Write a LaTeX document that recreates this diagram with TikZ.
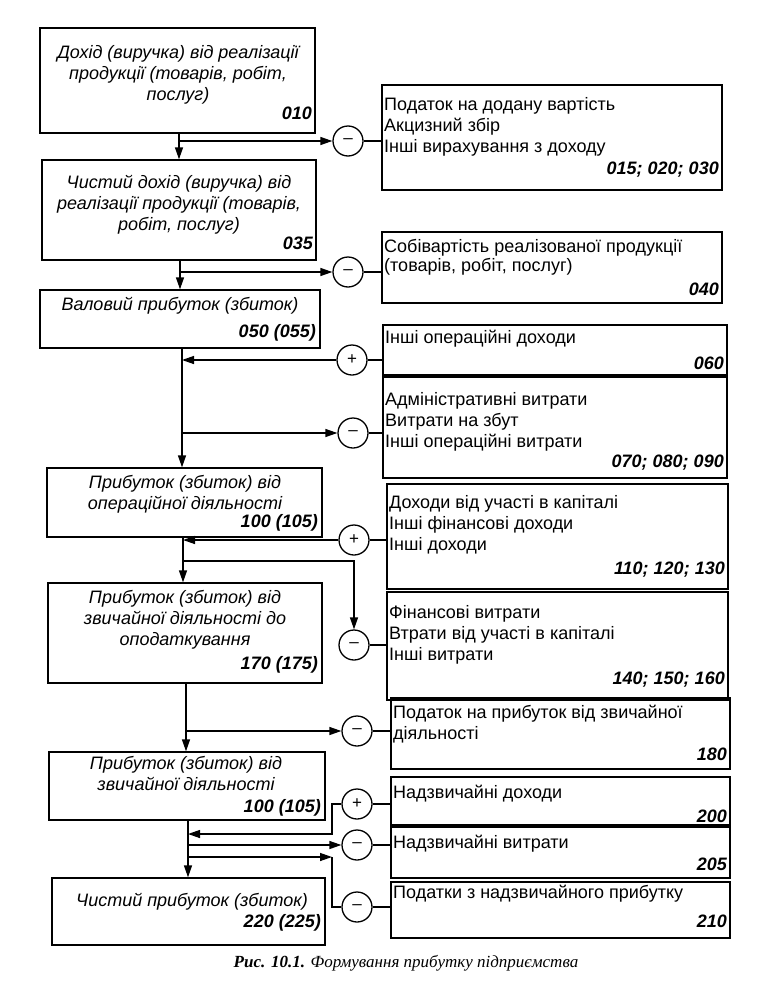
\documentclass[tikz,border=0pt]{standalone}
\usepackage{fontspec}
\setmainfont{Liberation Sans}
\newfontfamily\capfont{Liberation Serif}
\usetikzlibrary{arrows.meta,fit}
\begin{document}
\begin{tikzpicture}[x=1pt,y=-1pt,
  box/.style={draw, line width=1.3pt, inner sep=0pt},
  ltxt/.style={font=\fontsize{18}{21}\selectfont\itshape, align=center, inner sep=0pt, anchor=north},
  rtxt/.style={font=\fontsize{18}{21}\selectfont, align=left, inner sep=0pt, anchor=north west},
  code/.style={font=\fontsize{18}{21}\selectfont\bfseries\itshape, inner sep=0pt, anchor=base east},
  sgn/.style={draw, circle, line width=1.3pt, minimum size=30pt, inner sep=0pt, font=\fontsize{17}{17}\selectfont},
  arr/.style={line width=1.3pt, -{Triangle[length=12pt,width=8pt]}},
  ln/.style={line width=1.3pt}]
\useasboundingbox (0,0) rectangle (773,996);

% ---------- left boxes ----------
\node[box, fit={(40,28) (315,133)}] (L1) {};
\node[box, fit={(42,160) (316,260)}] (L2) {};
\node[box, fit={(40,290) (320,348)}] (L3) {};
\node[box, fit={(47,468) (322,537)}] (L4) {};
\node[box, fit={(48,583) (322,683)}] (L5) {};
\node[box, fit={(49,752) (325,820)}] (L6) {};
\node[box, fit={(52,878) (325,945)}] (L7) {};

\node[ltxt] (t1) at (178,45) {Дохід (виручка) від реалізації\\продукції (товарів, робіт,\\послуг)};
\node[code] (c1) at (312,119) {010};
\node[ltxt] (t2) at (179,175) {Чистий дохід (виручка) від\\реалізації продукції (товарів,\\робіт, послуг)};
\node[code] (c2) at (313,249) {035};
\node[ltxt] (t3) at (180,297) {Валовий прибуток (збиток)};
\node[code] (c3) at (316,337) {050 (055)};
\node[ltxt] (t4) at (185,475) {Прибуток (збиток) від\\операційної діяльності};
\node[code] (c4) at (318,527) {100 (105)};
\node[ltxt] (t5) at (185,590) {Прибуток (збиток) від\\звичайної діяльності до\\оподаткування};
\node[code] (c5) at (318,669) {170 (175)};
\node[ltxt] (t6) at (186,756) {Прибуток (збиток) від\\звичайної діяльності};
\node[code] (c6) at (321,812) {100 (105)};
\node[ltxt] (t7) at (192,893) {Чистий прибуток (збиток)};
\node[code] (c7) at (321,927) {220 (225)};

% ---------- right boxes ----------
\node[box, fit={(382,85) (722,190)}] (R1) {};
\node[box, fit={(382,232) (722,303)}] (R2) {};
\node[box, fit={(383,325) (727,375)}] (R3) {};
\node[box, fit={(383,377) (727,478)}] (R4) {};
\node[box, fit={(387,484) (728,589)}] (R5) {};
\node[box, fit={(387,592) (728,700)}] (R6) {};
\node[box, fit={(391,698) (730,769)}] (R7) {};
\node[box, fit={(391,777) (730,825)}] (R8) {};
\node[box, fit={(391,827) (730,878)}] (R9) {};
\node[box, fit={(391,882) (730,938)}] (R10) {};

\node[rtxt] (s1) at (384,97) {Податок на додану вартість\\Акцизний збір\\Інші вирахування з доходу};
\node[code] (d1) at (719,174) {015; 020; 030};
\node[rtxt, font=\fontsize{18}{19}\selectfont] (s2) at (384,239) {Собівартість реалізованої продукції\\(товарів, робіт, послуг)};
\node[code] (d2) at (719,295) {040};
\node[rtxt] (s3) at (385,330) {Інші операційні доходи};
\node[code] (d3) at (724,369) {060};
\node[rtxt] (s4) at (385,392) {Адміністративні витрати\\Витрати на збут\\Інші операційні витрати};
\node[code] (d4) at (724,467) {070; 080; 090};
\node[rtxt] (s5) at (389,495) {Доходи від участі в капіталі\\Інші фінансові доходи\\Інші доходи};
\node[code] (d5) at (725,574) {110; 120; 130};
\node[rtxt] (s6) at (389,605) {Фінансові витрати\\Втрати від участі в капіталі\\Інші витрати};
\node[code] (d6) at (725,684) {140; 150; 160};
\node[rtxt] (s7) at (393,705) {Податок на прибуток від звичайної\\діяльності};
\node[code] (d7) at (727,760) {180};
\node[rtxt] (s8) at (393,785) {Надзвичайні доходи};
\node[code] (d8) at (727,822) {200};
\node[rtxt] (s9) at (393,835) {Надзвичайні витрати};
\node[code] (d9) at (727,870) {205};
\node[rtxt] (s10) at (393,885) {Податки з надзвичайного прибутку};
\node[code] (d10) at (727,927) {210};

% ---------- sign circles ----------
\node[sgn] (C1) at (348,141) {–};
\node[sgn] (C2) at (348,272) {–};
\node[sgn] (C3) at (352,360) {+};
\node[sgn] (C4) at (353,433) {–};
\node[sgn] (C5) at (354,540) {+};
\node[sgn] (C6) at (354,645) {–};
\node[sgn] (C7) at (357,731) {–};
\node[sgn] (C8) at (357,804) {+};
\node[sgn] (C9) at (357,845) {–};
\node[sgn] (C10) at (357,907) {–};

% vertical line positions
\coordinate (v1) at (179,0);
\coordinate (v2) at (180,0);
\coordinate (v3) at (182,0);
\coordinate (v4) at (183,0);
\coordinate (v5) at (186,0);
\coordinate (v6) at (188,0);

% ---------- main flow ----------
\draw[arr] (L1.south -| v1) -- (L2.north -| v1);
\draw[arr] (L2.south -| v2) -- (L3.north -| v2);
\draw[arr] (L3.south -| v3) -- (L4.north -| v3);
\draw[arr] (L4.south -| v4) -- (L5.north -| v4);
\draw[arr] (L5.south -| v5) -- (L6.north -| v5);
\draw[arr] (L6.south -| v6) -- (L7.north -| v6);

% ---------- branches ----------
\draw[arr] (v1 |- C1) -- (C1);
\draw[ln] (C1) -- (C1 -| R1.west);
\draw[arr] (v2 |- C2) -- (C2);
\draw[ln] (C2) -- (C2 -| R2.west);
\draw[arr] (C3) -- (v3 |- C3);
\draw[ln] (C3) -- (C3 -| R3.west);
\draw[arr] (v3 |- C4) -- (C4);
\draw[ln] (C4) -- (C4 -| R4.west);
\draw[arr] (C5) -- (v4 |- C5);
\draw[ln] (C5) -- (C5 -| R5.west);
\coordinate (j6) at (354,561);
\draw[arr] (v4 |- j6) -- (j6) -- (C6);
\draw[ln] (C6) -- (C6 -| R6.west);
\draw[arr] (v5 |- C7) -- (C7);
\draw[ln] (C7) -- (C7 -| R7.west);
\coordinate (k8) at (332,804);
\coordinate (m8) at (332,834);
\draw[arr] (C8) -- (k8) -- (m8) -- (v6 |- m8);
\draw[ln] (C8) -- (C8 -| R8.west);
\draw[arr] (v6 |- C9) -- (C9);
\draw[ln] (C9) -- (C9 -| R9.west);
\coordinate (k10) at (332,857);
\draw[arr] (v6 |- k10) -- (k10);
\draw[ln] (k10) -- (k10 |- C10) -- (C10);
\draw[ln] (C10) -- (C10 -| R10.west);

% ---------- caption ----------
\node[font=\capfont\fontsize{17}{20}\selectfont, inner sep=0pt] (cap) at (406,963)
  {\textbf{\textit{Рис. 10.1.}} \textit{Формування прибутку підприємства}};
\end{tikzpicture}
\end{document}
